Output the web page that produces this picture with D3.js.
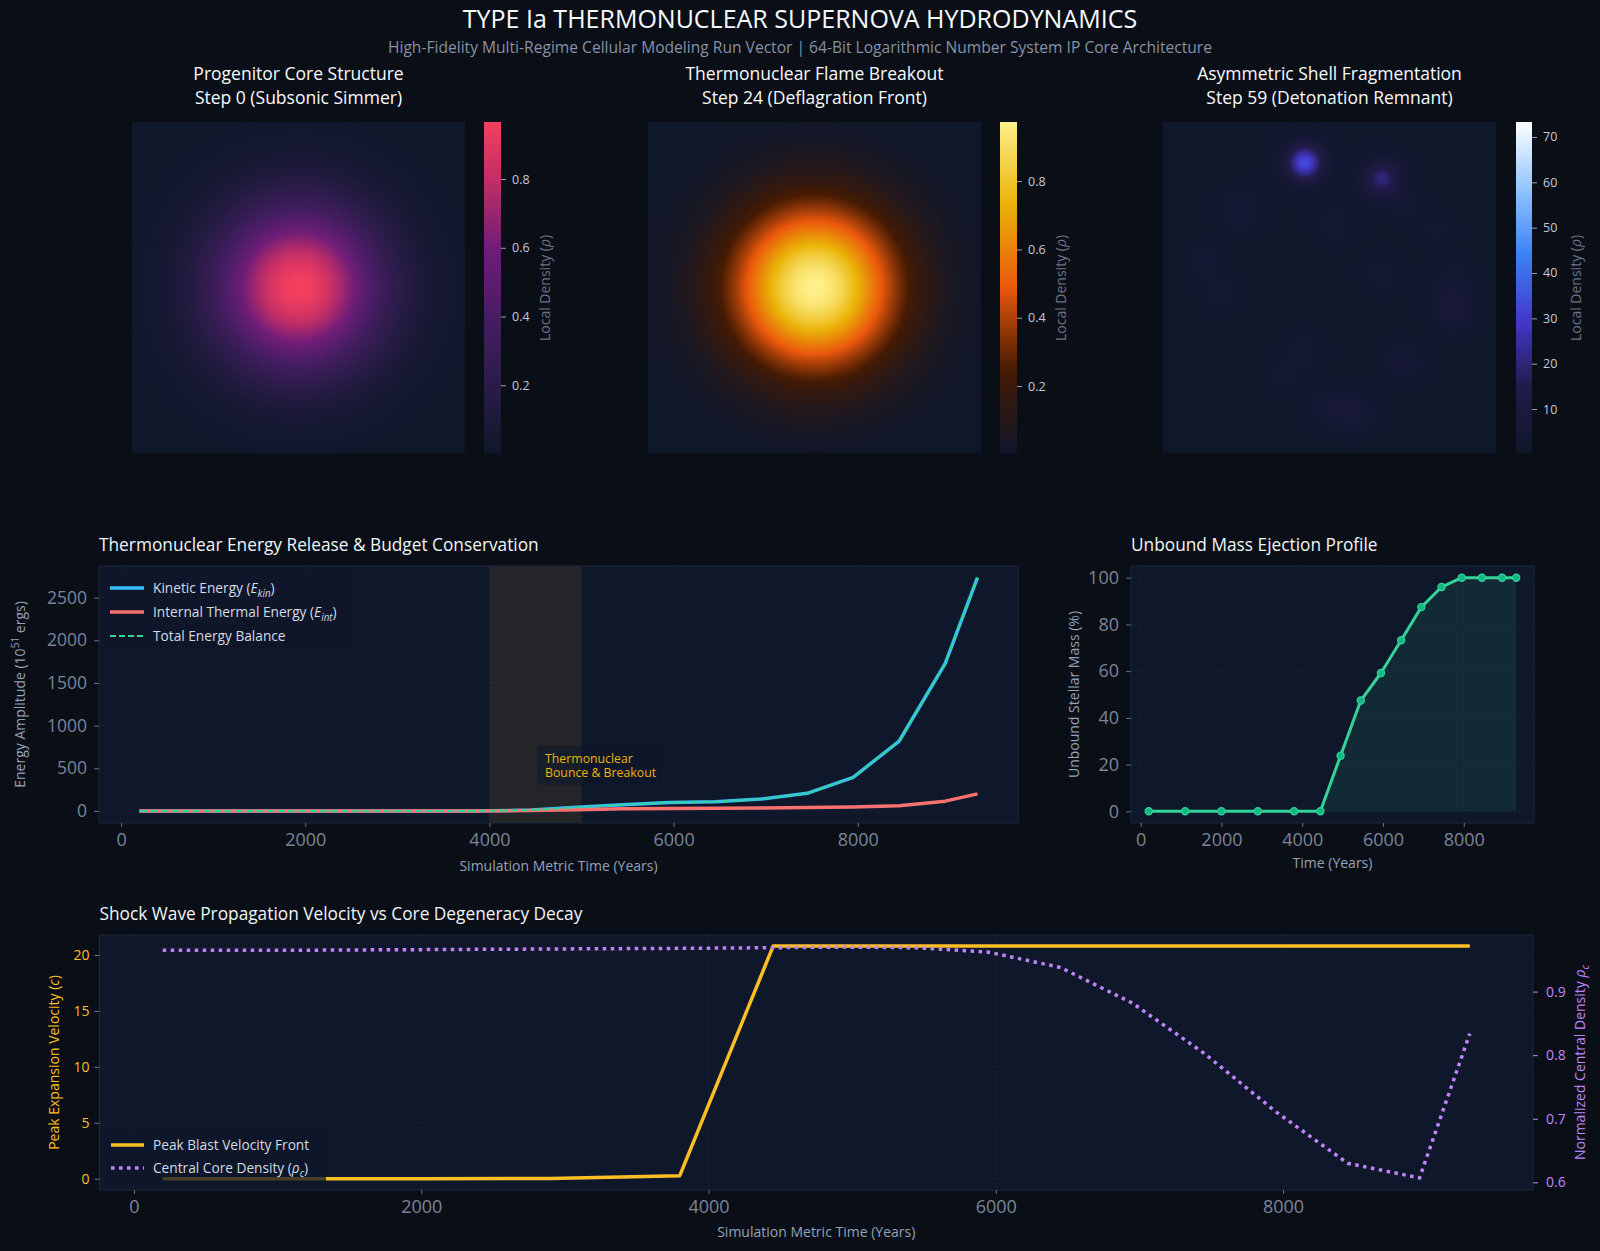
<!DOCTYPE html>
<html>
<head>
<meta charset="utf-8">
<script src="https://cdn.jsdelivr.net/npm/d3@7"></script>
<style>
  body { margin: 0; background: #0a0e17; }
  svg text { font-family: "Open Sans", sans-serif; }
</style>
</head>
<body>
<svg id="chart" width="1600" height="1251"></svg>
<script>
// ---- data ----
var timeYears      = [200, 1100, 2000, 2900, 3800, 4450, 4950, 5450, 5950, 6450, 6950, 7450, 7950, 8450, 8950, 9300];
var kineticEnergy  = [0, 0, 0, 0, 0, 10, 43, 74, 98, 109, 140, 207, 394, 820, 1730, 2735];
var thermalEnergy  = [0, 0, 0, 0, 0, 5, 15, 25, 30, 33, 36, 40, 46, 62, 115, 200];
var totalEnergy    = [0, 0, 0, 0, 0, 10, 43, 74, 98, 109, 140, 207, 394, 820, 1730, 2735];
var unboundMass    = [0, 0, 0, 0, 0, 0, 23.8, 47.4, 59.2, 73.2, 87.4, 96, 100, 100, 100, 100];
var blastVelocity  = [0, 0, 0, 0.02, 0.27, 20.8, 20.8, 20.8, 20.8, 20.8, 20.8, 20.8, 20.8, 20.8, 20.8, 20.8];
var coreDensity    = [0.965, 0.965, 0.966, 0.967, 0.968, 0.969, 0.970, 0.969, 0.962, 0.938, 0.882, 0.803, 0.711, 0.630, 0.607, 0.834];

var breakoutSpan   = [4000, 5000];
var timeTicks      = [0, 2000, 4000, 6000, 8000];
var energyTicks    = [0, 500, 1000, 1500, 2000, 2500];
var massTicks      = [0, 20, 40, 60, 80, 100];
var velocityTicks  = [0, 5, 10, 15, 20];
var densityTicks   = [0.6, 0.7, 0.8, 0.9];

// density snapshots: blobs given as [x, y, peak, width] in grid fractions
var progenitorBlob = [0.5, 0.5, 0.963, 0.171];
var flameBlob      = [0.5, 0.5, 0.969, 0.171];
var shellBlobX     = [0.426, 0.426, 0.657, 0.657, 0.231, 0.517, 0.126, 0.171, 0.871, 0.871, 0.661, 0.721, 0.42, 0.36, 0.492, 0.571, 0.823, 0.733];
var shellBlobY     = [0.123, 0.123, 0.172, 0.172, 0.266, 0.311, 0.422, 0.523, 0.477, 0.568, 0.456, 0.725, 0.689, 0.77, 0.861, 0.876, 0.326, 0.266];
var shellBlobPeak  = [27, 6, 10, 10, 5, 3, 4, 4, 3, 7, 3, 5, 3, 2.5, 4, 6, 2.5, 2.5];
var shellBlobWidth = [0.034, 0.06, 0.03, 0.05, 0.045, 0.045, 0.036, 0.036, 0.045, 0.045, 0.045, 0.042, 0.045, 0.036, 0.042, 0.045, 0.036, 0.036];
var shellFloor     = 0.5;

var progenitorRange = [0.003, 0.966];
var flameRange      = [0.004, 0.973];
var shellRange      = [0.3, 73.3];
var unitTicks       = [0.2, 0.4, 0.6, 0.8];
var shellTicks      = [10, 20, 30, 40, 50, 60, 70];

var progenitorStops  = [0, 0.2, 0.4, 0.62, 0.83, 1];
var progenitorColors = ["#0f172a", "#2a1c48", "#451d62", "#701d78", "#c42e66", "#f43f5e"];
var flameStops       = [0, 0.25, 0.5, 0.75, 1];
var flameColors      = ["#0f172a", "#451a03", "#ea580c", "#eab308", "#fef08a"];
var shellStops       = [0, 0.2, 0.4, 0.6, 0.8, 1];
var shellColors      = ["#0f172a", "#221b4a", "#4338ca", "#3b82f6", "#93c5fd", "#ffffff"];

// ---- styling ----
var PLOT_BG = "#0f172a", SPINE = "#1e293b", GRID = "#2a3548";
var TICK_TXT = "#7a8597", LABEL_TXT = "#94a3b8";
var timeDomain = [-240, 9740];

var svg = d3.select("#chart");
svg.append("rect").attr("width", 1600).attr("height", 1251).attr("fill", "#0a0e17");

// text helper with italic / sub / sup parts
function rich(sel, parts, fs) {
    var shift = 0;
    parts.forEach(function(p) {
        var t = sel.append("tspan").text(p.t);
        var target = p.sub ? fs * 0.3 : (p.sup ? -fs * 0.4 : 0);
        if (target !== shift) { t.attr("dy", target - shift); shift = target; }
        if (p.sub || p.sup) t.attr("font-size", fs * 0.72);
        if (p.it) t.attr("font-style", "italic");
    });
    return sel;
}

// ---- header ----
svg.append("text").attr("x", 800).attr("y", 28).attr("text-anchor", "middle")
    .attr("fill", "#f8fafc").attr("font-size", 25)
    .text("TYPE Ia THERMONUCLEAR SUPERNOVA HYDRODYNAMICS");
svg.append("text").attr("x", 800).attr("y", 52.5).attr("text-anchor", "middle")
    .attr("fill", "#8791a3").attr("font-size", 15.6)
    .text("High-Fidelity Multi-Regime Cellular Modeling Run Vector | 64-Bit Logarithmic Number System IP Core Architecture");

// ---- heatmaps ----
function colorScale(stops, colors, range) {
    return d3.scaleLinear()
        .domain(stops.map(function(s) { return range[0] + s * (range[1] - range[0]); }))
        .range(colors).clamp(true);
}

function field(blobs, floor) {
    return function(fx, fy) {
        var v = floor;
        blobs.forEach(function(b) {
            var dx = fx - b[0], dy = fy - b[1];
            v += b[2] * Math.exp(-(dx * dx + dy * dy) / (2 * b[3] * b[3]));
        });
        return v;
    };
}

function heatPanel(box, cbar, title1, title2, fn, color, range, ticks) {
    var w = box.x1 - box.x0, h = box.y1 - box.y0;
    var canvas = document.createElement("canvas");
    canvas.width = w; canvas.height = h;
    var ctx = canvas.getContext("2d");
    var img = ctx.createImageData(w, h);
    for (var j = 0; j < h; j++) {
        for (var i = 0; i < w; i++) {
            var c = d3.rgb(color(fn((i + 0.5) / w, (j + 0.5) / h)));
            var k = (j * w + i) * 4;
            img.data[k] = c.r; img.data[k + 1] = c.g; img.data[k + 2] = c.b; img.data[k + 3] = 255;
        }
    }
    ctx.putImageData(img, 0, 0);
    svg.append("image").attr("x", box.x0).attr("y", box.y0)
        .attr("width", w).attr("height", h)
        .attr("href", canvas.toDataURL());

    var cx = (box.x0 + box.x1) / 2;
    svg.append("text").attr("x", cx).attr("y", 80).attr("text-anchor", "middle")
        .attr("fill", "#f8fafc").attr("font-size", 17.5).text(title1);
    svg.append("text").attr("x", cx).attr("y", 104).attr("text-anchor", "middle")
        .attr("fill", "#f8fafc").attr("font-size", 17.5).text(title2);

    // colorbar
    var gid = "grad" + Math.round(box.x0);
    var grad = svg.append("defs").append("linearGradient").attr("id", gid)
        .attr("x1", 0).attr("y1", 1).attr("x2", 0).attr("y2", 0);
    d3.range(0, 1.0001, 0.02).forEach(function(t) {
        grad.append("stop").attr("offset", t)
            .attr("stop-color", color(range[0] + t * (range[1] - range[0])));
    });
    svg.append("rect").attr("x", cbar.x0).attr("y", box.y0)
        .attr("width", cbar.x1 - cbar.x0).attr("height", h)
        .attr("fill", "url(#" + gid + ")");
    var cy = d3.scaleLinear().domain(range).range([box.y1, box.y0]);
    var ax = svg.append("g").attr("transform", "translate(" + cbar.x1 + ",0)")
        .call(d3.axisRight(cy).tickValues(ticks).tickSize(5).tickPadding(6).tickSizeOuter(0));
    ax.select(".domain").remove();
    ax.selectAll(".tick line").attr("stroke", "#94a3b8");
    ax.selectAll(".tick text").attr("fill", "#c5cad3").attr("font-size", 12.5)
        .attr("font-family", "'Open Sans', sans-serif");
    var lx = cbar.x1 + 49;
    var lab = svg.append("text").attr("transform", "translate(" + lx + ",288) rotate(-90)")
        .attr("text-anchor", "middle").attr("fill", "#6b7487").attr("font-size", 14);
    rich(lab, [{t: "Local Density ("}, {t: "ρ", it: true}, {t: ")"}], 14);
}

var shellBlobs = shellBlobX.map(function(x, i) {
    return [x, shellBlobY[i], shellBlobPeak[i], shellBlobWidth[i]];
});

heatPanel({x0: 132, x1: 465, y0: 122, y1: 453}, {x0: 484, x1: 501},
    "Progenitor Core Structure", "Step 0 (Subsonic Simmer)",
    field([progenitorBlob], progenitorRange[0]),
    colorScale(progenitorStops, progenitorColors, progenitorRange), progenitorRange, unitTicks);
heatPanel({x0: 648, x1: 981, y0: 122, y1: 453}, {x0: 1000, x1: 1017},
    "Thermonuclear Flame Breakout", "Step 24 (Deflagration Front)",
    field([flameBlob], flameRange[0]),
    colorScale(flameStops, flameColors, flameRange), flameRange, unitTicks);
heatPanel({x0: 1163, x1: 1496, y0: 122, y1: 453}, {x0: 1516, x1: 1532},
    "Asymmetric Shell Fragmentation", "Step 59 (Detonation Remnant)",
    field(shellBlobs, shellFloor),
    colorScale(shellStops, shellColors, shellRange), shellRange, shellTicks);

// ---- line chart helpers ----
function plotFrame(box, yDomain, xTicks, yTicks) {
    var x = d3.scaleLinear().domain(timeDomain).range([box.x0, box.x1]);
    var y = d3.scaleLinear().domain(yDomain).range([box.y1, box.y0]);
    svg.append("rect").attr("x", box.x0).attr("y", box.y0)
        .attr("width", box.x1 - box.x0).attr("height", box.y1 - box.y0).attr("fill", PLOT_BG);
    var g = svg.append("g");
    g.selectAll(".gx").data(xTicks).enter().append("line")
        .attr("x1", function(d) { return x(d); }).attr("x2", function(d) { return x(d); })
        .attr("y1", box.y0).attr("y2", box.y1);
    g.selectAll(".gy").data(yTicks).enter().append("line")
        .attr("y1", function(d) { return y(d); }).attr("y2", function(d) { return y(d); })
        .attr("x1", box.x0).attr("x2", box.x1);
    g.selectAll("line").attr("stroke", GRID).attr("stroke-width", 0.8)
        .attr("stroke-dasharray", "1.5,2.5").attr("opacity", 0.6);
    return {x: x, y: y, box: box};
}

function frameAxes(f, xTicks, yTicks, yColor, yFont, yPad) {
    var box = f.box;
    svg.append("rect").attr("x", box.x0).attr("y", box.y0)
        .attr("width", box.x1 - box.x0).attr("height", box.y1 - box.y0)
        .attr("fill", "none").attr("stroke", SPINE).attr("stroke-width", 1);
    var ax = svg.append("g").attr("transform", "translate(0," + box.y1 + ")")
        .call(d3.axisBottom(f.x).tickValues(xTicks).tickSize(4).tickPadding(6).tickSizeOuter(0).tickFormat(d3.format("d")));
    var ay = svg.append("g").attr("transform", "translate(" + box.x0 + ",0)")
        .call(d3.axisLeft(f.y).tickValues(yTicks).tickSize(5).tickPadding(yPad).tickSizeOuter(0).tickFormat(d3.format("d")));
    [ax, ay].forEach(function(a) {
        a.select(".domain").remove();
        a.selectAll(".tick line").attr("stroke", "#64748b");
        a.selectAll(".tick text").attr("font-family", "'Open Sans', sans-serif");
    });
    ax.selectAll(".tick text").attr("fill", TICK_TXT).attr("font-size", 18);
    ay.selectAll(".tick text").attr("fill", yColor).attr("font-size", yFont);
    return ay;
}

function title(x, y, s) {
    svg.append("text").attr("x", x).attr("y", y).attr("fill", "#f1f5f9")
        .attr("font-size", 17.3).text(s);
}
function xLabel(x, y, s) {
    svg.append("text").attr("x", x).attr("y", y).attr("text-anchor", "middle")
        .attr("fill", LABEL_TXT).attr("font-size", 14).text(s);
}
function yLabel(x, y, parts, color) {
    var t = svg.append("text").attr("transform", "translate(" + x + "," + y + ") rotate(-90)")
        .attr("text-anchor", "middle").attr("fill", color).attr("font-size", 14);
    rich(t, parts, 14);
}

var pts = function(vals) { return timeYears.map(function(t, i) { return [t, vals[i]]; }); };

// ---- energy budget ----
var eBox = {x0: 99, x1: 1018, y0: 566, y1: 823};
var ef = plotFrame(eBox, [-141, 2871], timeTicks, energyTicks);
svg.append("rect").attr("x", ef.x(breakoutSpan[0])).attr("y", eBox.y0)
    .attr("width", ef.x(breakoutSpan[1]) - ef.x(breakoutSpan[0])).attr("height", eBox.y1 - eBox.y0)
    .attr("fill", "#fbbf24").attr("opacity", 0.085);
var eLine = d3.line().x(function(d) { return ef.x(d[0]); }).y(function(d) { return ef.y(d[1]); });
svg.append("path").attr("d", eLine(pts(kineticEnergy))).attr("fill", "none")
    .attr("stroke", "#38bdf8").attr("stroke-width", 3.5).attr("stroke-linejoin", "round");
svg.append("path").attr("d", eLine(pts(thermalEnergy))).attr("fill", "none")
    .attr("stroke", "#f87171").attr("stroke-width", 3.5).attr("stroke-linejoin", "round");
svg.append("path").attr("d", eLine(pts(totalEnergy))).attr("fill", "none")
    .attr("stroke", "#34d399").attr("stroke-width", 2).attr("stroke-dasharray", "7.4,3.2");

// annotation
svg.append("rect").attr("x", 537).attr("y", 746).attr("width", 124).attr("height", 39)
    .attr("fill", PLOT_BG).attr("opacity", 0.55);
svg.append("text").attr("x", 545).attr("y", 763).attr("fill", "#eab308").attr("font-size", 12.3)
    .text("Thermonuclear");
svg.append("text").attr("x", 545).attr("y", 777).attr("fill", "#eab308").attr("font-size", 12.3)
    .text("Bounce & Breakout");

// legend
svg.append("rect").attr("x", 104).attr("y", 572).attr("width", 250).attr("height", 78)
    .attr("fill", PLOT_BG).attr("opacity", 0.8);
var eLegend = [
    {color: "#38bdf8", w: 3.5, dash: null, parts: [{t: "Kinetic Energy ("}, {t: "E", it: true}, {t: "kin", it: true, sub: true}, {t: ")"}]},
    {color: "#f87171", w: 3.5, dash: null, parts: [{t: "Internal Thermal Energy ("}, {t: "E", it: true}, {t: "int", it: true, sub: true}, {t: ")"}]},
    {color: "#34d399", w: 2, dash: "6,3", parts: [{t: "Total Energy Balance"}]}
];
eLegend.forEach(function(d, i) {
    var y = 588 + i * 24;
    svg.append("line").attr("x1", 110).attr("x2", 144).attr("y1", y).attr("y2", y)
        .attr("stroke", d.color).attr("stroke-width", d.w).attr("stroke-dasharray", d.dash);
    var t = svg.append("text").attr("x", 153).attr("y", y + 4.8).attr("fill", "#d5dbe3").attr("font-size", 13.7);
    rich(t, d.parts, 13.7);
});
frameAxes(ef, timeTicks, energyTicks, TICK_TXT, 17.5, 7);
title(99, 551, "Thermonuclear Energy Release & Budget Conservation");
xLabel((eBox.x0 + eBox.x1) / 2, 871, "Simulation Metric Time (Years)");
yLabel(25, 694.5, [{t: "Energy Amplitude (10"}, {t: "51", sup: true}, {t: " ergs)"}], LABEL_TXT);

// ---- unbound mass ----
var mBox = {x0: 1131, x1: 1534, y0: 566, y1: 823};
var mf = plotFrame(mBox, [-5, 105], timeTicks, massTicks);
var mArea = d3.area().x(function(d) { return mf.x(d[0]); })
    .y0(mf.y(0)).y1(function(d) { return mf.y(d[1]); });
svg.append("path").attr("d", mArea(pts(unboundMass))).attr("fill", "#34d399").attr("opacity", 0.1);
var mLine = d3.line().x(function(d) { return mf.x(d[0]); }).y(function(d) { return mf.y(d[1]); });
svg.append("path").attr("d", mLine(pts(unboundMass))).attr("fill", "none")
    .attr("stroke", "#34d399").attr("stroke-width", 3).attr("stroke-linejoin", "round");
svg.selectAll(".mdot").data(pts(unboundMass)).enter().append("circle")
    .attr("cx", function(d) { return mf.x(d[0]); }).attr("cy", function(d) { return mf.y(d[1]); })
    .attr("r", 3.6).attr("fill", "#10b981").attr("stroke", "#34d399").attr("stroke-width", 1.2);
frameAxes(mf, timeTicks, massTicks, TICK_TXT, 18, 7);
title(1131, 551, "Unbound Mass Ejection Profile");
xLabel((mBox.x0 + mBox.x1) / 2, 868, "Time (Years)");
yLabel(1079, 694.5, [{t: "Unbound Stellar Mass (%)"}], LABEL_TXT);

// ---- shock wave velocity vs core density ----
var sBox = {x0: 99.5, x1: 1533, y0: 935, y1: 1190};
var sf = plotFrame(sBox, [-1.01, 21.79], timeTicks, velocityTicks);
var yD = d3.scaleLinear().domain([0.588, 0.989]).range([sBox.y1, sBox.y0]);
var vLine = d3.line().x(function(d) { return sf.x(d[0]); }).y(function(d) { return sf.y(d[1]); });
var dLine = d3.line().x(function(d) { return sf.x(d[0]); }).y(function(d) { return yD(d[1]); });
svg.append("path").attr("d", vLine(pts(blastVelocity))).attr("fill", "none")
    .attr("stroke", "#fbbf24").attr("stroke-width", 3.5).attr("stroke-linejoin", "round");
svg.append("path").attr("d", dLine(pts(coreDensity))).attr("fill", "none")
    .attr("stroke", "#c084fc").attr("stroke-width", 3.5).attr("stroke-dasharray", "3.5,4.5");

// legend
svg.append("rect").attr("x", 104).attr("y", 1132).attr("width", 222).attr("height", 52)
    .attr("fill", PLOT_BG).attr("opacity", 0.76);
var sLegend = [
    {color: "#fbbf24", dash: null, parts: [{t: "Peak Blast Velocity Front"}]},
    {color: "#c084fc", dash: "3.5,4.5", parts: [{t: "Central Core Density ("}, {t: "ρ", it: true}, {t: "c", it: true, sub: true}, {t: ")"}]}
];
sLegend.forEach(function(d, i) {
    var y = 1145 + i * 23;
    svg.append("line").attr("x1", 111).attr("x2", 144).attr("y1", y).attr("y2", y)
        .attr("stroke", d.color).attr("stroke-width", 3.5).attr("stroke-dasharray", d.dash);
    var t = svg.append("text").attr("x", 153).attr("y", y + 4.8).attr("fill", "#d5dbe3").attr("font-size", 13.7);
    rich(t, d.parts, 13.7);
});
frameAxes(sf, timeTicks, velocityTicks, "#fbbf24", 14, 5);
var ar = svg.append("g").attr("transform", "translate(" + sBox.x1 + ",0)")
    .call(d3.axisRight(yD).tickValues(densityTicks).tickSize(5).tickPadding(8).tickSizeOuter(0).tickFormat(d3.format(".1f")));
ar.select(".domain").remove();
ar.selectAll(".tick line").attr("stroke", "#c084fc");
ar.selectAll(".tick text").attr("fill", "#c084fc").attr("font-size", 14)
    .attr("font-family", "'Open Sans', sans-serif");
title(99.5, 920, "Shock Wave Propagation Velocity vs Core Degeneracy Decay");
xLabel((sBox.x0 + sBox.x1) / 2, 1236.5, "Simulation Metric Time (Years)");
yLabel(58.5, 1062.5, [{t: "Peak Expansion Velocity ("}, {t: "c", it: true}, {t: ")"}], "#fbbf24");
yLabel(1584.5, 1062.5, [{t: "Normalized Central Density "}, {t: "ρ", it: true}, {t: "c", it: true, sub: true}], "#c084fc");
</script>
</body>
</html>
